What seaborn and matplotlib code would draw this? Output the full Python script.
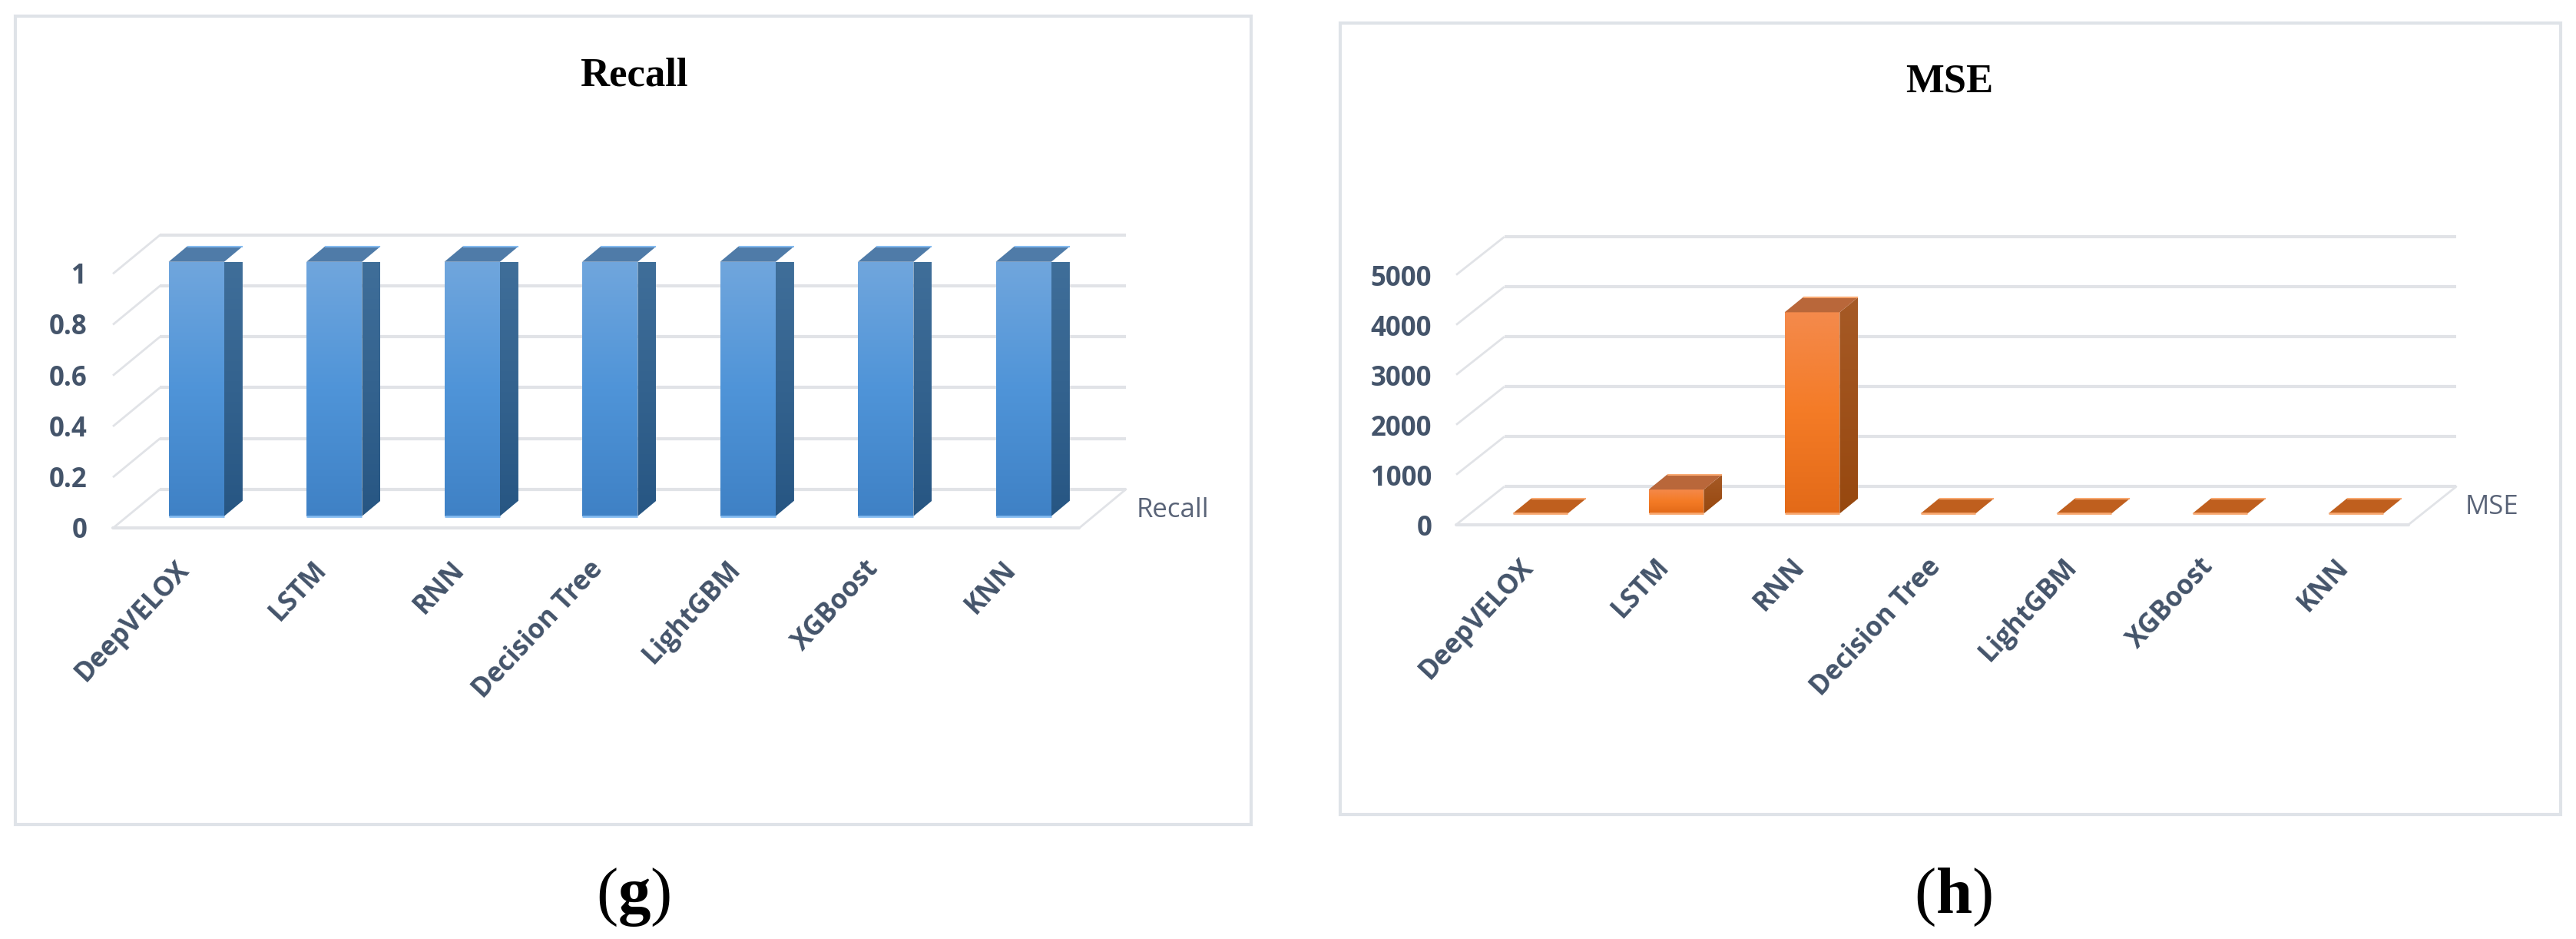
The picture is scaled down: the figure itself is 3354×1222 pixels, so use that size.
import numpy as np
import seaborn as sns
import matplotlib
matplotlib.use('Agg')
import matplotlib.pyplot as plt
from matplotlib.colors import LinearSegmentedColormap
from matplotlib.patches import Polygon, Rectangle
from matplotlib.transforms import Affine2D

W, H = 3355, 1222

models = ['DeepVELOX', 'LSTM', 'RNN', 'Decision Tree', 'LightGBM', 'XGBoost', 'KNN']
recall_values = [1, 1, 1, 1, 1, 1, 1]
mse_values = [1, 480, 4030, 1, 1, 1, 1]
recall_ticks = [0, 0.2, 0.4, 0.6, 0.8, 1]
recall_ticklabels = ['0', '0.2', '0.4', '0.6', '0.8', '1']
mse_ticks = [0, 1000, 2000, 3000, 4000, 5000]
mse_ticklabels = ['0', '1000', '2000', '3000', '4000', '5000']

TEXT = '#44546A'
GRID = '#E1E3E7'
FRAME = '#DFE3E8'

sns.set_theme(style='white')
plt.rcParams['font.family'] = ['Open Sans', 'DejaVu Sans']
plt.rcParams['mathtext.fontset'] = 'custom'
plt.rcParams['mathtext.bf'] = 'Liberation Serif:bold'
plt.rcParams['mathtext.rm'] = 'Liberation Serif'


def fx(x):
    return x / W


def fy(y):
    return 1 - y / H


def gradient_poly(ax, verts, colors, zorder):
    # vertical gradient clipped to a polygon given in data coords
    verts = np.array(verts)
    cmap = LinearSegmentedColormap.from_list('g', colors)
    x0, x1 = verts[:, 0].min(), verts[:, 0].max()
    y0, y1 = verts[:, 1].min(), verts[:, 1].max()
    grad = np.linspace(0, 1, 256).reshape(-1, 1)
    im = ax.imshow(grad, extent=(x0, x1, y0, y1), origin='upper', cmap=cmap,
                   aspect='auto', zorder=zorder, interpolation='bilinear')
    clip = Polygon(verts, closed=True, transform=ax.transData, fc='none', ec='none')
    ax.add_patch(clip)
    im.set_clip_path(clip)


def panel(values, ticks, ticklabels, box, ymax, front, side, top, flat, edge,
          wall, floor, depth):
    left, right, bottom, upper = box
    ax = fig.add_axes([fx(left), fy(bottom), fx(right - left), (bottom - upper) / H])
    sns.barplot(x=models, y=values, ax=ax, color=front[1], saturation=1,
                width=depth['bar'], zorder=3)
    ax.set_xlim(-0.5, 6.5)
    ax.set_ylim(0, ymax)
    ax.patch.set_visible(False)
    sns.despine(ax=ax, left=True, bottom=True)

    ux = (right - left) / 7       # pixels per category
    uy = (bottom - upper) / ymax  # pixels per unit

    def dx(px):
        return (px - left) / ux - 0.5

    def dv(px):
        return (bottom - px) / uy

    # back wall gridlines and the diagonals down to the floor front
    wall_l, wall_r, wall_y0 = wall
    floor_l, floor_r, floor_y = floor
    lift = dv(wall_y0)
    drop = dv(floor_y)
    for t in ticks:
        ax.plot([dx(floor_l), dx(wall_l)], [t + drop, t + lift], color=GRID,
                lw=2.0, clip_on=False, zorder=1, solid_capstyle='butt')
        ax.plot([dx(wall_l), dx(wall_r)], [t + lift, t + lift], color=GRID,
                lw=3.0, clip_on=False, zorder=1, solid_capstyle='butt')
    ax.plot([dx(floor_l), dx(floor_r)], [drop, drop], color=GRID, lw=3.0,
            clip_on=False, zorder=1)
    ax.plot([dx(floor_r), dx(wall_r)], [drop, lift], color=GRID, lw=2.0,
            clip_on=False, zorder=1)

    ddx = depth['dx'] / ux
    ddy = depth['dy'] / uy
    for bar in list(ax.patches):
        x, w, h = bar.get_x(), bar.get_width(), bar.get_height()
        bar.set_visible(False)
        if h > ymax * 0.01:
            gradient_poly(ax, [(x, 0), (x + w, 0), (x + w, h), (x, h)], front, 4)
            gradient_poly(ax, [(x + w, 0), (x + w + ddx, ddy),
                               (x + w + ddx, h + ddy), (x + w, h)], side, 4)
            ax.add_patch(Polygon([(x, h), (x + w, h), (x + w + ddx, h + ddy),
                                  (x + ddx, h + ddy)], fc=top, ec='none',
                                 zorder=4, clip_on=False))
        else:
            ax.add_patch(Polygon([(x, h), (x + w, h), (x + w + ddx, h + ddy),
                                  (x + ddx, h + ddy)], fc=flat, ec='none',
                                 zorder=4, clip_on=False))
        ax.plot([x, x + w], [0, 0], color=edge, lw=2, zorder=5, clip_on=False,
                solid_capstyle='butt')
        ax.plot([x + ddx, x + w + ddx], [h + ddy, h + ddy], color=edge, lw=1.5,
                zorder=5, clip_on=False, solid_capstyle='butt')

    ax.set_xlim(-0.5, 6.5)
    ax.set_ylim(0, ymax)
    ax.grid(False)
    ax.set_yticks(ticks)
    ax.set_yticklabels(ticklabels, fontsize=25, fontweight='bold', color=TEXT)
    ax.tick_params(axis='y', length=0, pad=38)
    for lab in ax.get_yticklabels():
        lab.set_transform(lab.get_transform() + Affine2D().translate(0, -15))
    ax.set_xticks(range(len(models)))
    ax.set_xticklabels(models, rotation=47, ha='right', va='center',
                       rotation_mode='anchor', fontsize=25, fontweight='bold',
                       color=TEXT)
    ax.tick_params(axis='x', length=0, pad=46)
    for lab in ax.get_xticklabels():
        lab.set_transform(lab.get_transform() + Affine2D().translate(-15, 0))
    return ax


fig = plt.figure(figsize=(W / 100, H / 100), dpi=100, facecolor='white')

panel(recall_values, recall_ticks, recall_ticklabels,
      box=(166, 1422.5, 671.7, 340.7), ymax=1,
      front=['#70A6DD', '#4F94D8', '#3F81C5'], side=['#41709B', '#275683'],
      top='#4F7BA8', flat='#4F7BA8', edge='#84BBF0',
      wall=(208.5, 1466, 636.7), floor=(147, 1405, 687.3),
      depth={'bar': 0.403, 'dx': 24, 'dy': 20})

panel(mse_values, mse_ticks, mse_ticklabels,
      box=(1917, 3156, 668.3, 343.3), ymax=5000,
      front=['#F48A4C', '#F47B26', '#E36A18'], side=['#A65A26', '#97480F'],
      top='#B9673A', flat='#BF5F1E', edge='#F8A870',
      wall=(1958.6, 3198, 633.3), floor=(1896, 3136, 682.7),
      depth={'bar': 0.405, 'dx': 24, 'dy': 19.5})

# frames around each chart
for x0, y0, x1, y1 in [(20, 21, 1629, 1073), (1745, 30, 3334, 1060)]:
    fig.add_artist(Rectangle((fx(x0), fy(y1)), (x1 - x0) / W, (y1 - y0) / H,
                             transform=fig.transFigure, fill=False, ec=FRAME,
                             lw=3.0))

fig.text(fx(825), fy(112), 'Recall', family='Liberation Serif', fontweight='bold',
         fontsize=38, color='black', ha='center', va='baseline')
fig.text(fx(2538), fy(120), 'MSE', family='Liberation Serif', fontweight='bold',
         fontsize=38, color='black', ha='center', va='baseline')
fig.text(fx(1480), fy(664), 'Recall', fontsize=25, color='#5A6478', ha='left',
         va='center')
fig.text(fx(3210), fy(660), 'MSE', fontsize=25, color='#5A6478', ha='left',
         va='center')

fig.text(fx(825), fy(1188), r'($\mathbf{g}$)', family='Liberation Serif',
         fontsize=61, color='black', ha='center', va='baseline')
fig.text(fx(2543), fy(1188), r'($\mathbf{h}$)', family='Liberation Serif',
         fontsize=61, color='black', ha='center', va='baseline')

fig.savefig('out.png', dpi=100, facecolor='white')
